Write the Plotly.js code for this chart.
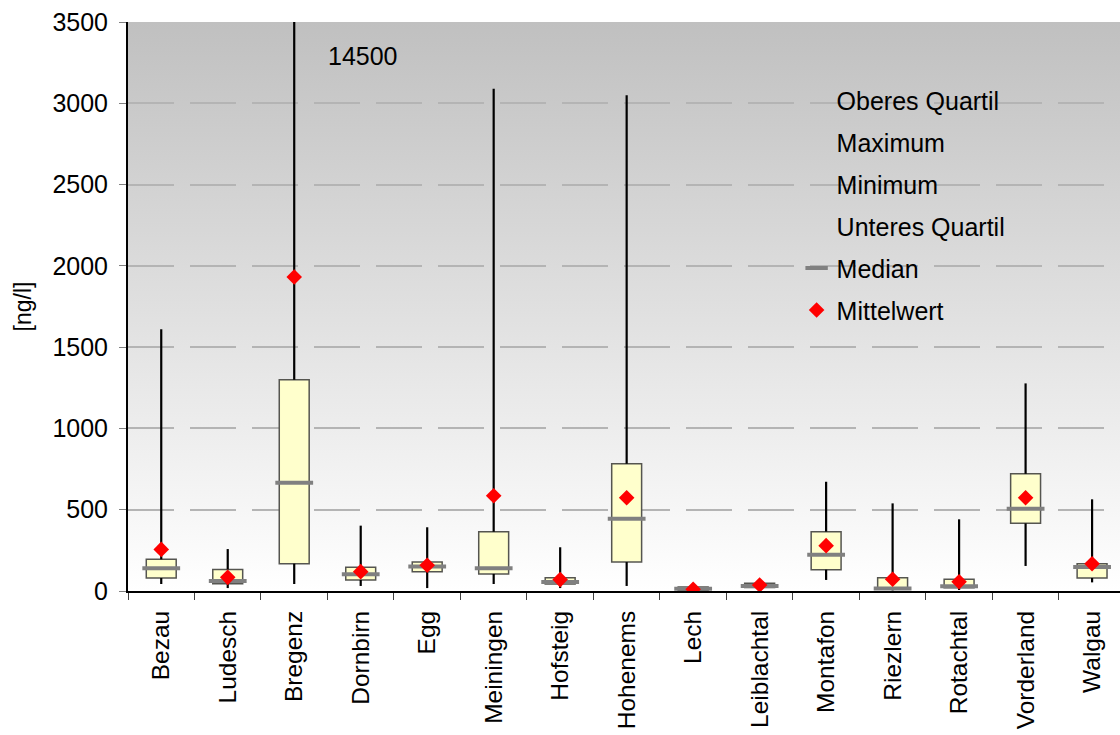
<!DOCTYPE html>
<html>
<head>
<meta charset="utf-8">
<script src="https://cdn.plot.ly/plotly-3.0.1.min.js"></script>
<style>
  html, body { margin: 0; padding: 0; background: #ffffff; }
  #wrap { position: relative; width: 1120px; height: 735px; }
  #bg { position: absolute; background: linear-gradient(to bottom, #c0c0c0 0%, #ffffff 100%); }
  #chart { position: absolute; left: 0; top: 0; width: 1120px; height: 735px; }
</style>
</head>
<body>
<div id="wrap"><div id="bg"></div><div id="chart"></div></div>
<script>
// ---- data (ng/l) ----
const categories = ["Bezau", "Ludesch", "Bregenz", "Dornbirn", "Egg", "Meiningen", "Hofsteig",
  "Hohenems", "Lech", "Leiblachtal", "Montafon", "Riezlern", "Rotachtal", "Vorderland", "Walgau"];
const maximum      = [1610, 258, 14500, 402, 392, 3090, 269, 3050, 28, 52, 672, 539, 441, 1277, 564];
const oberesQuart  = [195, 133, 1300, 146, 178, 365, 82, 783, 25, 47, 365, 82, 72, 721, 168];
const median       = [140, 61, 666, 103, 150, 140, 55, 445, 14, 30, 223, 15, 29, 506, 148];
const unteresQuart = [80, 45, 168, 68, 119, 105, 43, 178, 5, 22, 131, 10, 20, 416, 80];
const minimum      = [43, 18, 43, 31, 18, 43, 18, 31, 2, 18, 68, 3, 6, 154, 53];
const mittelwert   = [256, 84, 1931, 119, 158, 586, 70, 574, 10, 37, 279, 72, 57, 574, 168];
const yTicks = [0, 500, 1000, 1500, 2000, 2500, 3000, 3500];
const maxLabel = "14500";

const FONT = "Liberation Sans, Arial, sans-serif";

// box bodies (Q1..Q3)
const boxes = {
  type: "bar", x: categories,
  y: oberesQuart.map((q, i) => q - unteresQuart[i]),
  base: unteresQuart, width: 0.45,
  marker: { color: "#FFFFCC", line: { color: "#555550", width: 1.5 } },
  showlegend: false, hoverinfo: "skip"
};
// whiskers (min..Q1 and Q3..max)
const wx = [], wy = [];
categories.forEach((c, i) => {
  wx.push(c, c, null, c, c, null);
  wy.push(minimum[i], unteresQuart[i], null, oberesQuart[i], maximum[i], null);
});
const whiskers = {
  type: "scatter", mode: "lines", x: wx, y: wy,
  line: { color: "#000000", width: 2.2 }, showlegend: false, hoverinfo: "skip", connectgaps: false
};
function ghost(name, vals, rank) {
  return { type: "scatter", mode: "markers", name: name, x: categories, y: vals,
    marker: { color: "rgba(0,0,0,0)", size: 10 }, legendgroup: name, legendrank: rank,
    hoverinfo: "skip" };
}
const medTrace = {
  type: "scatter", mode: "markers", name: "Median", x: categories, y: median,
  marker: { symbol: "line-ew", size: 27, color: "#808080", line: { color: "#808080", width: 4 } },
  legendgroup: "Median", legendrank: 5, hoverinfo: "skip"
};
const meanTrace = {
  type: "scatter", mode: "markers", name: "Mittelwert", x: categories, y: mittelwert,
  marker: { symbol: "diamond", size: 12, color: "#ff0000" },
  legendgroup: "Mittelwert", legendrank: 6, hoverinfo: "skip"
};

const data = [boxes, whiskers,
  ghost("Oberes Quartil", oberesQuart, 1),
  ghost("Maximum", maximum, 2),
  ghost("Minimum", minimum, 3),
  ghost("Unteres Quartil", unteresQuart, 4),
  medTrace, meanTrace];

const layout = {
  width: 1120, height: 735,
  margin: { l: 128, r: 0, t: 22, b: 144 },
  paper_bgcolor: "rgba(0,0,0,0)", plot_bgcolor: "rgba(0,0,0,0)",
  font: { family: FONT, size: 25, color: "#000" },
  showlegend: true,
  legend: {
    x: 0.674, xanchor: "left", y: 0.903, yanchor: "top",
    bgcolor: "rgba(0,0,0,0)", font: { family: FONT, size: 25, color: "#000" },
    tracegroupgap: 6.5, itemclick: false, itemdoubleclick: false
  },
  xaxis: {
    type: "category", range: [-0.5, 14.42], fixedrange: true,
    showline: true, linecolor: "#000", linewidth: 2,
    ticks: "outside", tickson: "boundaries", ticklen: 7, tickcolor: "#404040", tickwidth: 1,
    tickangle: -90, tickfont: { family: FONT, size: 24.5, color: "#000" }, ticklabelstandoff: 8,
    showgrid: false, zeroline: false
  },
  yaxis: {
    range: [0, 3500], tickvals: yTicks, ticktext: yTicks.map(String), fixedrange: true,
    showline: true, linecolor: "#000", linewidth: 2,
    ticks: "outside", ticklen: 7, tickcolor: "#808080", tickwidth: 1,
    tickfont: { family: FONT, size: 25, color: "#000" }, ticklabelstandoff: 6,
    showgrid: true, gridcolor: "#b4b4b4", gridwidth: 2, griddash: "46px,16px",
    zeroline: false,
    title: { text: "[ng/l]", font: { family: FONT, size: 23, color: "#000" }, standoff: 14 }
  },
  annotations: [{
    x: 2, y: 3290, xref: "x", yref: "y", xshift: 69, text: maxLabel, showarrow: false,
    font: { family: FONT, size: 25, color: "#000" }
  }],
  bargap: 0.5
};

Plotly.newPlot("chart", data, layout, { displayModeBar: false, staticPlot: true }).then(gd => {
  const s = gd._fullLayout._size;
  const bg = document.getElementById("bg");
  bg.style.left = s.l + "px";
  bg.style.top = s.t + "px";
  bg.style.width = s.w + "px";
  bg.style.height = s.h + "px";
});
</script>
</body>
</html>
